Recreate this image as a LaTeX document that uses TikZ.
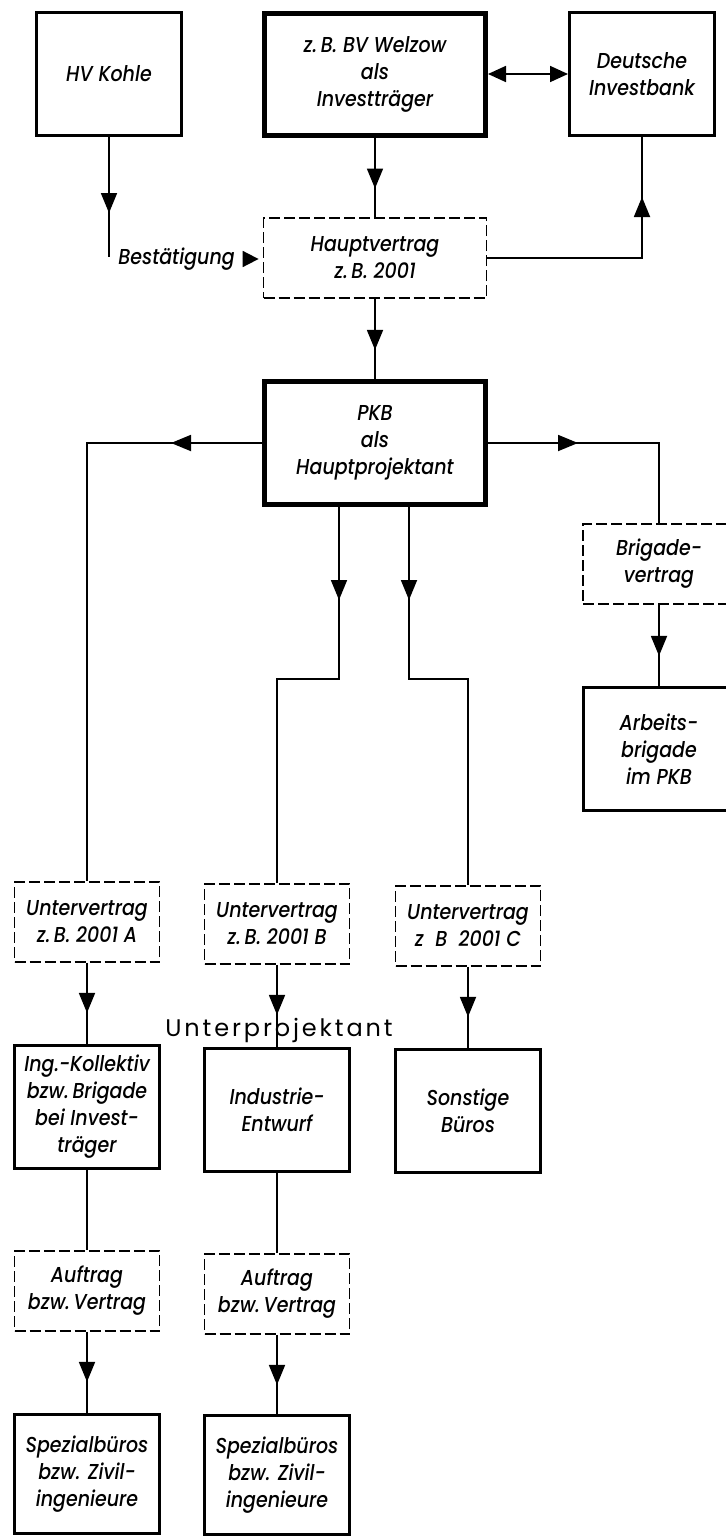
\documentclass[tikz,border=0pt]{standalone}
\usepackage{fontspec}
\setmainfont{Poppins}[ItalicFont=* Medium Italic, ItalicFeatures={FakeStretch=0.88}]
\usetikzlibrary{arrows.meta,decorations.markings}

\tikzset{
  box/.style={draw, line width=1.5pt, minimum width=72.5pt, minimum height=61.5pt,
    inner sep=1pt, align=center, font=\itshape\fontsize{10.8}{13.5}\selectfont},
  mainbox/.style={box, line width=2.5pt, minimum width=110.5pt},
  vertrag/.style={box, line width=0.9pt, dash pattern=on 5.5pt off 2pt, minimum height=40pt},
  link/.style={line width=0.9pt},
  tipat/.style={postaction={decorate}, decoration={markings,
    mark=at position #1 with {\arrow{Triangle[length=10pt,width=8pt]}}}},
}

\begin{document}
\begin{tikzpicture}[x=0.5pt, y=-0.5pt]
    \useasboundingbox (0,0) rectangle (725,1537);

    % Top row
    \node[box] (hv) at (109,74) {HV Kohle};
    \node[mainbox, minimum height=61pt] (welzow) at (375,74) {z.\,B. BV Welzow\\als\\Investträger};
    \node[box] (bank) at (642,74) {Deutsche\\Investbank};

    % Main contract
    \node[vertrag, minimum width=111.5pt] (haupt) at (375,258) {Hauptvertrag\\z.\,B. 2001};
    \node[font=\itshape\fontsize{10.8}{13.5}\selectfont, inner sep=0pt, anchor=west] (best) at (118,259) {Bestätigung};
    \coordinate (hvend) at (109,257);

    % Main designer
    \node[mainbox] (pkb) at (375,443) {PKB\\als\\Hauptprojektant};

    % Brigade branch
    \node[vertrag, minimum width=76pt] (bvt) at (659,564) {Brigade-\\vertrag};
    \node[box, minimum width=75.5pt] (ab) at (659,749) {Arbeits-\\brigade\\im PKB};

    % Sub contracts
    \node[vertrag] (uvA) at (87,922) {Untervertrag\\z.\,B. 2001 A};
    \node[vertrag] (uvB) at (277,924) {Untervertrag\\z.\,B. 2001 B};
    \node[vertrag] (uvC) at (468,926) {Untervertrag\\z\ \ B\ \ 2001 C};

    % Sub designers
    \node[font=\fontsize{12}{14}\selectfont\addfontfeatures{LetterSpace=12}] (unter) at (279,1030) {Unterprojektant};
    \node[box] (ing) at (87,1107) {Ing.-Kollektiv\\bzw.\,Brigade\\bei Invest-\\träger};
    \node[box] (ind) at (277,1110) {Industrie-\\Entwurf};
    \node[box] (sonst) at (468,1111) {Sonstige\\Büros};

    % Orders
    \node[vertrag] (aufA) at (87,1291) {Auftrag\\bzw.\,Vertrag};
    \node[vertrag] (aufB) at (277,1294) {Auftrag\\bzw.\,Vertrag};
    \node[box, minimum height=59.5pt] (spA) at (87,1474) {Spezialbüros\\bzw. Zivil-\\ingenieure};
    \node[box, minimum height=59.5pt] (spB) at (277,1475) {Spezialbüros\\bzw. Zivil-\\ingenieure};

    % Top connections
    \draw[link, tipat=38pt] (hv.south) -- (hvend);
    \draw[link, -{Triangle[length=8pt,width=8pt]}] (haupt.west |- best.east) ++(-10pt,0) -- ++(8pt,0);
    \draw[link, {Triangle[length=9pt,width=8pt]}-{Triangle[length=9pt,width=8pt]}] (welzow.east) -- (bank.west);
    \draw[link, tipat=25.5pt] (welzow) -- (haupt);
    \draw[link, tipat=-30pt] (haupt.east) -| (bank.south);
    \draw[link, tipat=25.5pt] (haupt) -- (pkb);

    % Branches of PKB
    \draw[link, tipat=45.5pt] (pkb.west) -| (uvA.north);
    \draw[link, tipat=45pt] (pkb.east) -| (bvt.north);
    \draw[link, tipat=46.5pt] ([xshift=-18pt]pkb.south) -- ++(0,172) -| (uvB.north);
    \draw[link, tipat=46.5pt] ([xshift=17pt]pkb.south) -- ++(0,172) -| (uvC.north);
    \draw[link, tipat=25.5pt] (bvt) -- (ab);

    % Lower columns
    \draw[link, tipat=25pt] (uvA) -- (ing);
    \draw[link, tipat=25pt] (uvB) -- (ind);
    \draw[link, tipat=25pt] (uvC) -- (sonst);
    \draw[link] (ing) -- (aufA);
    \draw[link] (ind) -- (aufB);
    \draw[link, tipat=25pt] (aufA) -- (spA);
    \draw[link, tipat=25pt] (aufB) -- (spB);
\end{tikzpicture}
\end{document}
